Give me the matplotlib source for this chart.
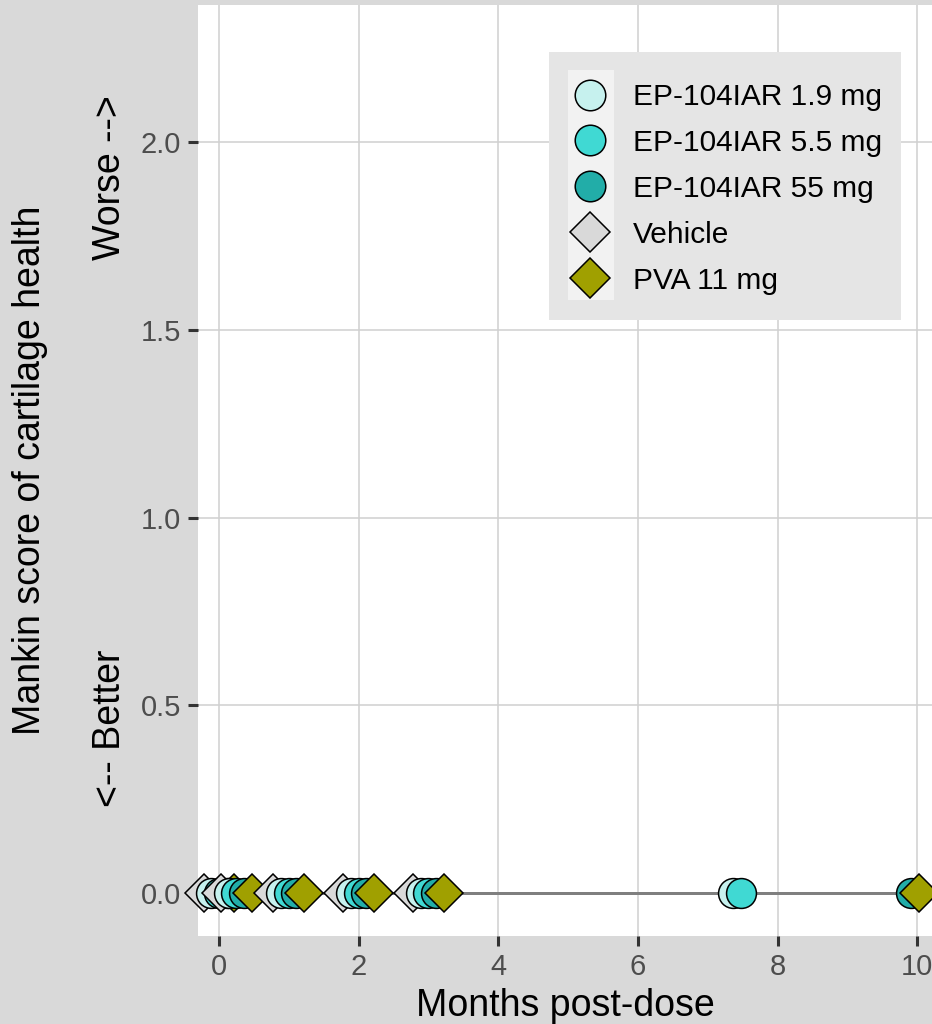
import matplotlib
matplotlib.use("Agg")
import matplotlib.pyplot as plt
from matplotlib.lines import Line2D
from matplotlib.patches import Rectangle

plt.rcParams['font.family'] = ['Liberation Sans', 'DejaVu Sans']

# groups in draw / dodge order
groups = ['Vehicle', 'EP-104IAR 1.9 mg', 'EP-104IAR 5.5 mg', 'EP-104IAR 55 mg', 'PVA 11 mg']
colors = {'Vehicle': '#D9D9D9', 'EP-104IAR 1.9 mg': '#C6F1EE', 'EP-104IAR 5.5 mg': '#40D9D3',
          'EP-104IAR 55 mg': '#22ADA8', 'PVA 11 mg': '#A0A000'}
markers = {'Vehicle': 'D', 'EP-104IAR 1.9 mg': 'o', 'EP-104IAR 5.5 mg': 'o',
           'EP-104IAR 55 mg': 'o', 'PVA 11 mg': 'D'}
dodge = {'Vehicle': -0.22, 'EP-104IAR 1.9 mg': -0.11, 'EP-104IAR 5.5 mg': 0.0,
         'EP-104IAR 55 mg': 0.11, 'PVA 11 mg': 0.22}

# months post-dose and mean Mankin score per group
months = {
    'Vehicle': [0, 0.25, 1, 2, 3],
    'EP-104IAR 1.9 mg': [0, 0.25, 1, 2, 3, 7.47],
    'EP-104IAR 5.5 mg': [0, 0.25, 1, 2, 3, 7.47],
    'EP-104IAR 55 mg': [0, 0.25, 1, 2, 3, 9.8],
    'PVA 11 mg': [0, 0.25, 1, 2, 3, 9.8],
}
score = {
    'Vehicle': [0, 0, 0, 0, 0],
    'EP-104IAR 1.9 mg': [0, 0, 0, 0, 0, 0],
    'EP-104IAR 5.5 mg': [0, 0, 0, 0, 0, 0],
    'EP-104IAR 55 mg': [0, 0, 0, 0, 0, 0],
    'PVA 11 mg': [0, 0, 0, 0, 0, 0],
}

fig = plt.figure(figsize=(9.32, 10.24), dpi=100)
fig.patch.set_facecolor('#D9D9D9')
ax = fig.add_axes([198/932, 88/1024, 1 - 198/932, 931/1024])
ax.set_facecolor('white')

for g in groups:
    xs = [m + dodge[g] for m in months[g]]
    ax.plot(xs, score[g], color='#7F7F7F', lw=2, zorder=2)

# points drawn by time then group so later time points sit on top
pts = []
for gi, g in enumerate(groups):
    for m, s in zip(months[g], score[g]):
        pts.append((m, gi, g, s))
pts.sort()
z = 3
for m, gi, g, s in pts:
    ms = 21.5 if markers[g] == 'o' else 19.5
    ax.plot(m + dodge[g], s, marker=markers[g], ms=ms, mfc=colors[g], mec='black',
            mew=1.1, ls='none', zorder=z, clip_on=False)
    z += 0.01

ax.set_xlim(-0.3, 10.21)
ax.set_ylim(-0.1145, 2.365)
ax.set_xticks([0, 2, 4, 6, 8, 10])
ax.set_yticks([0, 0.5, 1.0, 1.5, 2.0])
ax.set_yticklabels(['0.0', '0.5', '1.0', '1.5', '2.0'])
ax.grid(True, color='#D0D0D0', lw=1.1)
ax.set_axisbelow(True)
for sp in ax.spines.values():
    sp.set_visible(False)
ax.tick_params(colors='#333333', labelcolor='#4D4D4D', labelsize=21, length=7, width=2.2, pad=5)
ax.set_xlabel('Months post-dose', fontsize=27, color='black', labelpad=5)

fig.text(30/932, 1 - 470/1024, 'Mankin score of cartilage health', rotation=90,
         ha='center', va='center', fontsize=27)
fig.text(110/932, 1 - 178/1024, 'Worse -->', rotation=90, ha='center', va='center', fontsize=27)
fig.text(110/932, 1 - 728/1024, '<-- Better', rotation=90, ha='center', va='center', fontsize=27)

# legend box
W, H = 932 - 198, 931
ax.add_patch(Rectangle(((549 - 198)/W, (936 - 320)/H), (901 - 549)/W, (320 - 52)/H,
                       transform=ax.transAxes, facecolor='#E5E5E5', edgecolor='none', zorder=8))
ax.add_patch(Rectangle(((568 - 198)/W, (936 - 300)/H), (614 - 568)/W, (300 - 70)/H,
                       transform=ax.transAxes, facecolor='#F2F2F2', edgecolor='none', zorder=8.5))
legend_order = ['EP-104IAR 1.9 mg', 'EP-104IAR 5.5 mg', 'EP-104IAR 55 mg', 'Vehicle', 'PVA 11 mg']
handles = [Line2D([], [], marker=markers[g], ls='none', mfc=colors[g], mec='black', mew=1.1,
                  ms=22 if markers[g] == 'o' else 20) for g in legend_order]
leg = ax.legend(handles, legend_order, loc='upper left', frameon=False, fontsize=21.5,
                bbox_to_anchor=((568 - 198)/W, (936 - 83)/H), borderaxespad=0, borderpad=0,
                handletextpad=0.73, labelspacing=0.6, handlelength=1.45)
leg.set_zorder(9)

fig.savefig('out.png', dpi=100, facecolor=fig.get_facecolor())
